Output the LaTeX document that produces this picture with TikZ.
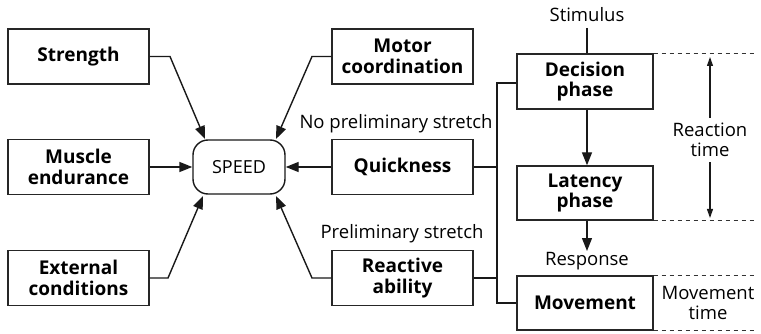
\documentclass[tikz,border=0pt]{standalone}
\usepackage{fontspec}
\setmainfont{Open Sans}
\usetikzlibrary{arrows.meta}
\begin{document}
\begin{tikzpicture}[x=1pt,y=-1pt,
  box/.style={draw=black!85,line width=1.4pt,inner sep=0pt,font=\fontsize{19}{20.5}\selectfont\bfseries,align=center},
  lbl/.style={inner sep=0pt,font=\fontsize{18.5}{20.5}\selectfont,align=center},
  con/.style={line width=1.4pt,draw=black!90},
  arr/.style={con,-{Triangle[length=13pt,width=10pt]}},
  sarr/.style={line width=1.1pt,draw=black!90,-{Triangle[length=9pt,width=6pt]}},
  dsh/.style={line width=1pt,dash pattern=on 4.5pt off 3.5pt,black!80}]
\useasboundingbox (0,0) rectangle (761,334);
% left column
\node[box,minimum width=141pt,minimum height=55pt] (str) at (78.5,56.5) {Strength};
\node[box,minimum width=141pt,minimum height=55pt] (mus) at (78.5,167) {Muscle\\endurance};
\node[box,minimum width=141pt,minimum height=55pt] (ext) at (78.5,278) {External\\conditions};
% center
\node[draw=black!90,line width=1.4pt,rounded corners=15pt,minimum width=92pt,minimum height=54pt,inner sep=0pt,font=\fontsize{18}{18}\selectfont] (spd) at (239,167) {SPEED};
% right column
\node[box,minimum width=141pt,minimum height=55pt] (mot) at (402.5,56.5) {Motor\\coordination};
\node[box,minimum width=141pt,minimum height=55pt] (qui) at (402.5,167) {Quickness};
\node[box,minimum width=141pt,minimum height=55pt] (rea) at (402.5,278) {Reactive\\ability};
\node[lbl] (nps) at (396,124) {No preliminary stretch};
\node[lbl] (ps) at (402,234) {Preliminary stretch};
% far right
\node[box,minimum width=136pt,minimum height=55pt] (dec) at (585,81.5) {Decision\\phase};
\node[box,minimum width=136pt,minimum height=54pt] (lat) at (585,193) {Latency\\phase};
\node[box,minimum width=136pt,minimum height=54pt] (mov) at (585,303) {Movement};
\node[lbl] (sti) at (587,15) {Stimulus};
\node[lbl] (res) at (587,261) {Response};
\node[lbl] (rt) at (710,140) {Reaction\\time};
\node[lbl] (mt) at (708,303) {Movement\\time};
\coordinate (stitop) at (587,28);
\coordinate (resarr) at (587,251);
% connectors left
\draw[arr] (str.east) -- (170,56.5) -- (205,139);
\draw[arr] (ext.east) -- (168,278) -- (203,196);
\draw[arr] (mus.east) -- (spd.west);
\draw[arr] (mot.west) -- (312,56.5) -- (276,139);
\draw[arr] (rea.west) -- (312,278) -- (276,196);
\draw[arr] (qui.west) -- (spd.east);
% bracket
\coordinate (bt) at (497,83);
\coordinate (bb) at (497,303);
\draw[con] (dec.west |- bt) -- (bt) -- (bb) -- (mov.west);
\draw[con] (qui.east) -- (qui.east -| bt);
\draw[con] (rea.east) -- (rea.east -| bt);
% vertical flow
\draw[con] (stitop) -- (stitop |- dec.north);
\draw[arr] (dec.south -| stitop) -- (lat.north -| stitop);
\draw[arr] (lat.south -| stitop) -- (resarr);
% dashed
\draw[dsh] (dec.north east) -- ++(104,0);
\draw[dsh] (lat.south east) -- ++(104,0);
\draw[dsh] (mov.north east) -- ++(104,0);
\draw[dsh] (mov.south east) -- ++(104,0);
\draw[sarr] (rt.north -| 710,0) ++(0,-5) -- (710,57);
\draw[sarr] (rt.south -| 710,0) ++(0,5) -- (710,218);
\end{tikzpicture}
\end{document}
